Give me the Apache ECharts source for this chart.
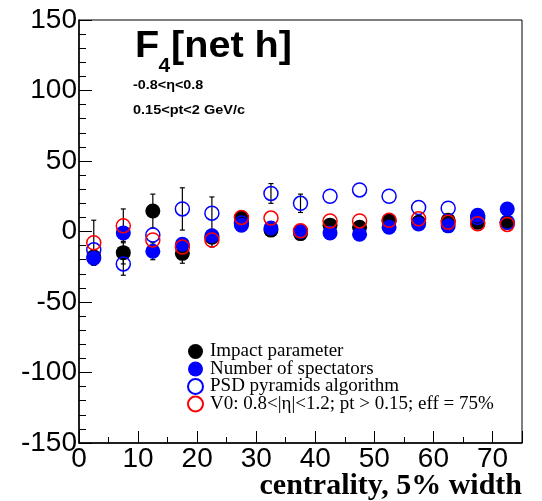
<!DOCTYPE html>
<html>
<head>
<meta charset="utf-8">
<script src="https://cdn.jsdelivr.net/npm/echarts@6/dist/echarts.min.js"></script>
<style>
html, body { margin: 0; padding: 0; background: #fff; }
#chart { width: 542px; height: 501px; }
</style>
</head>
<body>
<div id="chart"></div>
<script>
// Centrality bin centres (5% wide bins)
var centrality = [2.5, 7.5, 12.5, 17.5, 22.5, 27.5, 32.5, 37.5, 42.5, 47.5, 52.5, 57.5, 62.5, 67.5, 72.5];

// F4 of net hadrons for each centrality estimator, with statistical errors
var impactParam = [-18, -15, 14.5, -15.5, -4, 9.5, 1, -1.5, 4.5, 3, 7.5, 6.5, 8, 6.5, 6.5];
var impactErr   = [2, 8, 12, 7, 3, 0, 0, 0, 0, 0, 0, 0, 0, 0, 0];

var spectators  = [-19, -1, -14, -9, -3, 4.5, 2.5, 0, -1, -2, 3, 5.3, 4, 11.5, 16];
var spectErr    = [0, 0, 6, 0, 0, 0, 0, 0, 0, 0, 0, 0, 0, 0, 0];

var psdPyramids = [-13, -23, -2.5, 16, 13, 6, 27, 20, 25, 29.5, 25, 17, 16.5, 10, 6.5];
var psdErr      = [0, 8, 0, 15, 11.5, 0, 7, 6.5, 0, 0, 0, 0, 0, 0, 0];

var v0Estimator = [-8, 4, -6, -11, -6, 10, 9.5, 0.5, 7.5, 7.5, 8, 9, 6.5, 5.5, 5];
var v0Err       = [16, 12, 0, 0, 5, 0, 0, 0, 0, 0, 0, 0, 0, 0, 0];

var seriesNames = [
  'Impact parameter',
  'Number of spectators',
  'PSD pyramids algorithm',
  'V0: 0.8<|\u03b7|<1.2; pt > 0.15; eff = 75%'
];

var xTicks = { min: 0, max: 75, interval: 10 };
var yTicks = { min: -150, max: 150, interval: 50 };

function points(vals) {
  return centrality.map(function (x, i) { return [x, vals[i]]; });
}

// one row per error bar: [x, low, high]
function errorRows() {
  var rows = [];
  var sets = [[impactParam, impactErr], [spectators, spectErr], [psdPyramids, psdErr], [v0Estimator, v0Err]];
  sets.forEach(function (s) {
    centrality.forEach(function (x, i) {
      if (s[1][i] > 0) rows.push([x, s[0][i] - s[1][i], s[0][i] + s[1][i]]);
    });
  });
  return rows;
}

var chart = echarts.init(document.getElementById('chart'), null, { renderer: 'canvas' });

var axisFont = { fontFamily: 'Liberation Sans', fontSize: 28, color: '#000' };

function label(x, y, text, size, sx, family, weight) {
  return {
    type: 'text', x: x, y: y, scaleX: sx, scaleY: 1,
    style: { x: 0, y: 0, text: text, fontFamily: family || 'Liberation Sans', fontWeight: weight || 'bold',
             fontSize: size, fill: '#000', verticalAlign: 'top', align: 'left' }
  };
}

var option = {
  animation: false,
  backgroundColor: '#fff',
  grid: {
    left: 79, top: 20, width: 443, height: 423,
    show: true, borderColor: '#000', borderWidth: 1, backgroundColor: 'transparent'
  },
  legend: {
    orient: 'vertical',
    left: 187, top: 342,
    padding: 0,
    itemGap: -1.5,
    itemWidth: 19, itemHeight: 15,
    data: seriesNames,
    textStyle: { fontFamily: 'Liberation Serif', fontSize: 19, lineHeight: 15, color: '#000' }
  },
  xAxis: {
    type: 'value',
    min: xTicks.min, max: xTicks.max, interval: xTicks.interval,
    axisLine: { show: true, onZero: false, lineStyle: { color: '#000', width: 1.5 } },
    axisTick: { show: true, inside: true, length: 12, lineStyle: { color: '#000', width: 1 } },
    minorTick: { show: true, splitNumber: 2, length: 6, lineStyle: { color: '#000', width: 1 } },
    splitLine: { show: false },
    axisLabel: Object.assign({ margin: 2, showMaxLabel: false }, axisFont)
  },
  yAxis: {
    type: 'value',
    min: yTicks.min, max: yTicks.max, interval: yTicks.interval,
    axisLine: { show: true, onZero: false, lineStyle: { color: '#000', width: 1.5 } },
    axisTick: { show: true, inside: true, length: 13, lineStyle: { color: '#000', width: 1 } },
    minorTick: { show: true, splitNumber: 5, length: 7, lineStyle: { color: '#000', width: 1 } },
    splitLine: { show: false },
    axisLabel: Object.assign({ margin: 2 }, axisFont)
  },
  graphic: [
    label(135, 29.2, 'F', 36, 1.1),
    label(158.5, 56.2, '4', 21, 1.0),
    label(171, 29.2, '[net h]', 36, 1.1),
    label(133, 79, '-0.8<\u03b7<0.8', 12.5, 1.15),
    label(133, 104, '0.15<pt<2 GeV/c', 12.5, 1.16),
    { type: 'text', right: 20, top: 471,
      style: { text: 'centrality, 5% width', fontFamily: 'Liberation Serif', fontWeight: 'bold', fontSize: 30, fill: '#000' } }
  ],
  series: [
    {
      type: 'custom',
      name: 'errors',
      z: 1,
      silent: true,
      data: errorRows(),
      renderItem: function (params, api) {
        var x = api.value(0);
        var lo = api.coord([x, api.value(1)]);
        var hi = api.coord([x, api.value(2)]);
        var cap = 2.5;
        var st = { stroke: '#000', lineWidth: 1.2 };
        return {
          type: 'group',
          children: [
            { type: 'line', shape: { x1: lo[0], y1: lo[1], x2: hi[0], y2: hi[1] }, style: st },
            { type: 'line', shape: { x1: lo[0] - cap, y1: lo[1], x2: lo[0] + cap, y2: lo[1] }, style: st },
            { type: 'line', shape: { x1: hi[0] - cap, y1: hi[1], x2: hi[0] + cap, y2: hi[1] }, style: st }
          ]
        };
      },
      encode: { x: 0, y: [1, 2] }
    },
    {
      type: 'scatter', name: seriesNames[0], z: 2,
      symbol: 'circle', symbolSize: 15,
      itemStyle: { color: '#000', opacity: 1 },
      data: points(impactParam)
    },
    {
      type: 'scatter', name: seriesNames[1], z: 3,
      symbol: 'circle', symbolSize: 15,
      itemStyle: { color: '#0000ff', opacity: 1 },
      data: points(spectators)
    },
    {
      type: 'scatter', name: seriesNames[2], z: 4,
      symbol: 'circle', symbolSize: 14,
      itemStyle: { color: 'rgba(255,255,255,0)', borderColor: '#0000ff', borderWidth: 1.5, opacity: 1 },
      data: points(psdPyramids)
    },
    {
      type: 'scatter', name: seriesNames[3], z: 5,
      symbol: 'circle', symbolSize: 14,
      itemStyle: { color: 'rgba(255,255,255,0)', borderColor: '#ff0000', borderWidth: 1.5, opacity: 1 },
      data: points(v0Estimator)
    }
  ]
};

chart.setOption(option);
</script>
</body>
</html>
